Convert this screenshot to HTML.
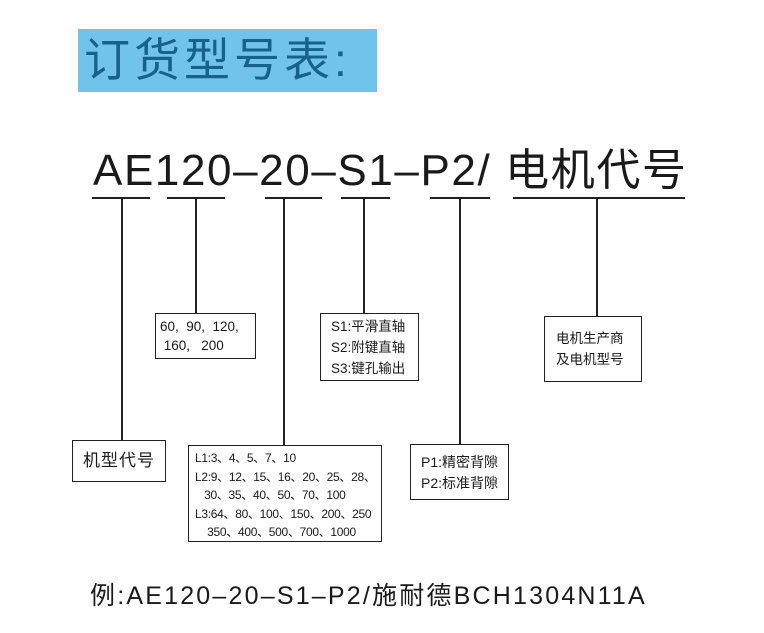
<!DOCTYPE html>
<html><head><meta charset="utf-8"><style>
body{margin:0;width:764px;height:633px;background:#fff;position:relative;overflow:hidden;font-family:"Liberation Sans","Noto Sans CJK SC",sans-serif;color:#1a1a1a}
.a{position:absolute}
.title{left:78px;top:29px;width:299px;height:63px;background:#72c3ec;color:#17628d;font-size:46px;line-height:63px;padding-left:6px;box-sizing:border-box;letter-spacing:4px}
.code{left:93px;top:146px;font-size:44px;line-height:50px;white-space:nowrap;letter-spacing:1.6px}
.h{height:1.5px;background:#222}
.v{width:1.5px;background:#222}
.box{border:1.5px solid #222;box-sizing:border-box;background:#fff;font-size:13.5px;line-height:19px}
</style></head><body>
<div class="a title">订货型号表:</div>
<div class="a code">AE120–20–S1–P2/ 电机代号</div>

<div class="a h" style="left:92px;top:197px;width:58px"></div>
<div class="a h" style="left:167px;top:197px;width:58px"></div>
<div class="a h" style="left:265px;top:197px;width:57px"></div>
<div class="a h" style="left:341px;top:197px;width:49px"></div>
<div class="a h" style="left:430px;top:197px;width:60px"></div>
<div class="a h" style="left:513px;top:197px;width:172px"></div>

<div class="a v" style="left:121px;top:197px;height:244px"></div>
<div class="a v" style="left:195px;top:197px;height:116px"></div>
<div class="a v" style="left:283px;top:197px;height:248px"></div>
<div class="a v" style="left:363px;top:197px;height:116px"></div>
<div class="a v" style="left:459px;top:197px;height:247px"></div>
<div class="a v" style="left:596px;top:197px;height:119px"></div>

<div class="a box" style="left:72px;top:440px;width:94px;height:42px;font-size:17px;line-height:40px;text-align:center;letter-spacing:1px">机型代号</div>
<div class="a box" style="left:155px;top:313px;width:101px;height:46px;padding:3px 0 0 4px">60, &nbsp;90, &nbsp;120,<br>&nbsp;160, &nbsp;&nbsp;200</div>
<div class="a box" style="left:320px;top:313px;width:99px;height:68px;padding:2px 0 0 10px;line-height:21px">S1:平滑直轴<br>S2:附键直轴<br>S3:键孔输出</div>
<div class="a box" style="left:544px;top:316px;width:98px;height:66px;padding:11px 0 0 11px;line-height:21px">电机生产商<br>及电机型号</div>
<div class="a box" style="left:188px;top:445px;width:194px;height:97px;padding:3px 0 0 6px;font-size:12px;line-height:18.5px;white-space:nowrap;letter-spacing:-0.3px">L1:3、4、5、7、10<br>L2:9、12、15、16、20、25、28、<br>&nbsp;&nbsp;&nbsp;30、35、40、50、70、100<br>L3:64、80、100、150、200、250<br>&nbsp;&nbsp;&nbsp;&nbsp;350、400、500、700、1000</div>
<div class="a box" style="left:410px;top:444px;width:99px;height:56px;padding:7px 0 0 10px;font-size:14px;line-height:21px">P1:精密背隙<br>P2:标准背隙</div>

<div class="a" style="left:90px;top:581px;font-size:25px;line-height:30px;white-space:nowrap;letter-spacing:2.2px">例:AE120–20–S1–P2/施耐德BCH1304N11A</div>
</body></html>
